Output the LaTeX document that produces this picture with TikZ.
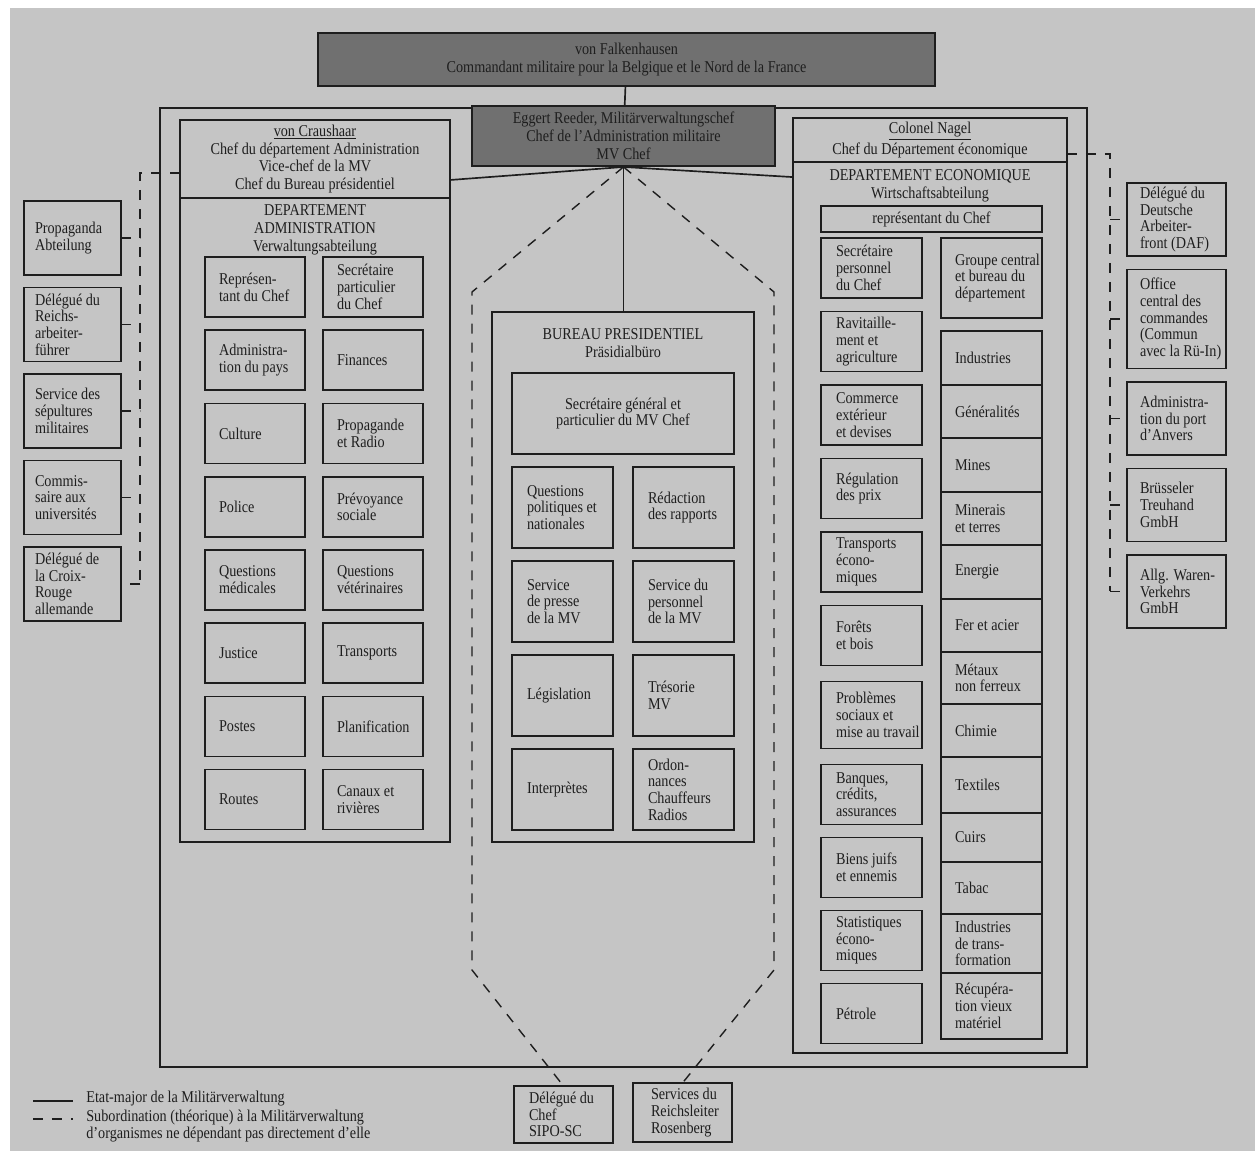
\documentclass[tikz,border=0pt]{standalone}
\usepackage{fontspec}
\setmainfont{Liberation Serif}[FakeStretch=0.86]
\usetikzlibrary{positioning}

\definecolor{paper}{RGB}{197,197,197}
\definecolor{ink}{RGB}{30,30,30}
\definecolor{chief}{RGB}{112,112,112}
\newcommand{\unitfont}{\fontsize{9.4pt}{9.5pt}\selectfont\hyphenpenalty=10000 \exhyphenpenalty=10000 }
\newcommand{\headfont}{\fontsize{9.4pt}{10.2pt}\selectfont}

\begin{document}
\begin{tikzpicture}[x=0.02cm, y=-0.02cm,
    chiefbox/.style={draw=ink, fill=chief, line width=1.1pt, text=ink, font=\headfont, align=center, inner sep=0pt},
    headbox/.style={draw=ink, line width=0.95pt, text=ink, font=\headfont, align=center, inner sep=0pt, outer sep=0pt},
    deptbox/.style={draw=ink, line width=0.95pt, inner sep=0pt, outer sep=0pt},
    title/.style={text=ink, font=\headfont, align=center, inner sep=0pt},
    unit/.style={draw=ink, line width=0.95pt, text=ink, font=\unitfont, align=flush left, inner xsep=0.02cm, inner ysep=1pt, outer sep=0pt,
        execute at begin node={\leftskip=#1\rightskip=-0.6cm plus 1fil}},
    unit/.default=0.26cm,
    admunit/.style={unit, text width=1.96cm, minimum height=1.2cm},
    burunit/.style={unit=0.28cm, text width=1.98cm, minimum height=1.62cm},
    ecounit/.style={unit=0.28cm, text width=1.98cm, minimum height=1.2cm},
    branch/.style={unit, text width=1.98cm, minimum height=1.06cm},
    outside/.style={unit=0.2cm, text width=1.9cm, minimum height=1.48cm},
    allied/.style={unit=0.24cm, text width=1.94cm, minimum height=1.46cm},
    staff/.style={draw=ink, line width=0.95pt},
    sub/.style={draw=ink, line width=0.8pt, dash pattern=on 0.2cm off 0.18cm}]

    \useasboundingbox (0,0) rectangle (1255,1173);
    \fill[white] (0,0) rectangle (1255,1173);
    \fill[paper] (10,8) rectangle (1255,1151);

    % cadre de la Militaerverwaltung
    \node[deptbox, line width=1.25pt, minimum width=18.54cm, minimum height=19.18cm] (mv) at (623.5,587.5) {};

    \node[chiefbox, minimum width=12.34cm, minimum height=1.06cm] (falk) at (626.5,59.5)
        {von Falkenhausen\\Commandant militaire pour la Belgique et le Nord de la France};
    \node[chiefbox, minimum width=6.06cm, minimum height=1.2cm] (reeder) at (623.5,136)
        {Eggert Reeder, Militärverwaltungschef\\Chef de l'Administration militaire\\MV Chef};

    % departement administration
    \node[headbox, minimum width=5.4cm, minimum height=1.56cm] (craus) at (315,159)
        {\underline{von Craushaar}\\Chef du département Administration\\Vice-chef de la MV\\Chef du Bureau présidentiel};
    \node[deptbox, minimum width=5.4cm, minimum height=12.88cm] (admin) at (315,520) {};
    \node[title, below=0.12cm of admin.north] (admin_t) {DEPARTEMENT\\ADMINISTRATION\\Verwaltungsabteilung};

    \node[admunit] (a_rep) at (255,287) {Représen-\\tant du Chef};
    \node[admunit, below=0.265cm of a_rep] (a_pays) {Administra-\\tion du pays};
    \node[admunit, below=0.265cm of a_pays] (a_cult) {Culture};
    \node[admunit, below=0.265cm of a_cult] (a_pol) {Police};
    \node[admunit, below=0.265cm of a_pol] (a_med) {Questions\\médicales};
    \node[admunit, below=0.265cm of a_med] (a_just) {Justice};
    \node[admunit, below=0.265cm of a_just] (a_post) {Postes};
    \node[admunit, below=0.265cm of a_post] (a_rout) {Routes};

    \node[admunit] (a_sec) at (373,287) {Secrétaire\\particulier\\du Chef};
    \node[admunit, below=0.265cm of a_sec] (a_fin) {Finances};
    \node[admunit, below=0.265cm of a_fin] (a_prop) {Propagande\\et Radio};
    \node[admunit, below=0.265cm of a_prop] (a_prev) {Prévoyance\\sociale};
    \node[admunit, below=0.265cm of a_prev] (a_vet) {Questions\\vétérinaires};
    \node[admunit, below=0.265cm of a_vet] (a_trans) {Transports};
    \node[admunit, below=0.265cm of a_trans] (a_plan) {Planification};
    \node[admunit, below=0.265cm of a_plan] (a_can) {Canaux et\\rivières};

    % bureau presidentiel
    \node[deptbox, minimum width=5.24cm, minimum height=10.6cm] (bureau) at (623,577) {};
    \node[title, below=0.32cm of bureau.north] (bureau_t) {BUREAU PRESIDENTIEL\\Präsidialbüro};
    \node[draw=ink, line width=0.95pt, text=ink, font=\unitfont, align=center, outer sep=0pt,
          minimum width=4.44cm, minimum height=1.62cm] (b_sg) at (623,413.5)
        {Secrétaire général et\\particulier du MV Chef};

    \node[burunit, below right=0.26cm and 0cm of b_sg.south west] (b_pol) {Questions\\politiques et\\nationales};
    \node[burunit, below=0.26cm of b_pol] (b_pres) {Service\\de presse\\de la MV};
    \node[burunit, below=0.26cm of b_pres] (b_leg) {Législation};
    \node[burunit, below=0.26cm of b_leg] (b_int) {Interprètes};

    \node[burunit, below left=0.26cm and 0cm of b_sg.south east] (b_red) {Rédaction\\des rapports};
    \node[burunit, below=0.26cm of b_red] (b_pers) {Service du\\personnel\\de la MV};
    \node[burunit, below=0.26cm of b_pers] (b_tres) {Trésorie\\MV};
    \node[burunit, below=0.26cm of b_tres] (b_ord) {Ordon-\\nances\\Chauffeurs\\Radios};

    % departement economique
    \node[headbox, minimum width=5.48cm, minimum height=0.88cm] (nagel) at (930,140)
        {\underline{Colonel Nagel}\\Chef du Département économique};
    \node[deptbox, minimum width=5.48cm, minimum height=17.82cm] (econ) at (930,607.5) {};
    \node[title, below=0.14cm of econ.north] (econ_t) {DEPARTEMENT ECONOMIQUE\\Wirtschaftsabteilung};
    \node[draw=ink, line width=0.95pt, text=ink, font=\unitfont, inner sep=0pt, outer sep=0pt,
          minimum width=4.42cm, minimum height=0.52cm] (e_rep) at (931.5,219) {représentant du Chef};

    \node[ecounit, below right=0.12cm and 0cm of e_rep.south west] (e_sec) {Secrétaire\\personnel\\du Chef};
    \node[ecounit, below=0.27cm of e_sec] (e_rav) {Ravitaille-\\ment et\\agriculture};
    \node[ecounit, below=0.27cm of e_rav] (e_com) {Commerce\\extérieur\\et devises};
    \node[ecounit, below=0.27cm of e_com] (e_reg) {Régulation\\des prix};
    \node[ecounit, below=0.27cm of e_reg] (e_tra) {Transports\\écono-\\miques};
    \node[ecounit, below=0.27cm of e_tra] (e_for) {Forêts\\et bois};
    \node[ecounit, minimum height=1.34cm, below=0.32cm of e_for] (e_pro) {Problèmes\\sociaux et\\mise au travail};
    \node[ecounit, below=0.32cm of e_pro] (e_ban) {Banques,\\crédits,\\assurances};
    \node[ecounit, below=0.26cm of e_ban] (e_bie) {Biens juifs\\et ennemis};
    \node[ecounit, below=0.26cm of e_bie] (e_sta) {Statistiques\\écono-\\miques};
    \node[ecounit, below=0.26cm of e_sta] (e_pet) {Pétrole};

    \node[branch, minimum height=1.6cm, below left=0.12cm and 0cm of e_rep.south east] (e_grp)
        {Groupe central\\et bureau du\\département};
    \node[branch, minimum height=1.08cm, below=0.26cm of e_grp] (e_ind) {Industries};
    \node[branch, below=0pt of e_ind] (e_gen) {Généralités};
    \node[branch, minimum height=1.08cm, below=0pt of e_gen] (e_min) {Mines};
    \node[branch, below=0pt of e_min] (e_mnr) {Minerais\\et terres};
    \node[branch, minimum height=1.08cm, below=0pt of e_mnr] (e_ene) {Energie};
    \node[branch, below=0pt of e_ene] (e_fer) {Fer et acier};
    \node[branch, minimum height=1.04cm, below=0pt of e_fer] (e_met) {Métaux\\non ferreux};
    \node[branch, below=0pt of e_met] (e_chi) {Chimie};
    \node[branch, minimum height=1.12cm, below=0pt of e_chi] (e_tex) {Textiles};
    \node[branch, minimum height=0.98cm, below=0pt of e_tex] (e_cui) {Cuirs};
    \node[branch, minimum height=1.04cm, below=0pt of e_cui] (e_tab) {Tabac};
    \node[branch, minimum height=1.18cm, below=0pt of e_tab] (e_itr) {Industries\\de trans-\\formation};
    \node[branch, minimum height=1.32cm, below=0pt of e_itr] (e_rec) {Récupéra-\\tion vieux\\matériel};

    % organismes rattaches, a gauche
    \node[outside] (o_prop) at (72.5,238) {Propaganda\\Abteilung};
    \node[outside, below=0.25cm of o_prop] (o_reich) {Délégué du\\Reichs-\\arbeiter-\\führer};
    \node[outside, below=0.25cm of o_reich] (o_sep) {Service des\\sépultures\\militaires};
    \node[outside, below=0.25cm of o_sep] (o_univ) {Commis-\\saire aux\\universités};
    \node[outside, below=0.25cm of o_univ] (o_croix) {Délégué de\\la Croix-\\Rouge\\allemande};

    % organismes rattaches, a droite
    \node[allied] (r_daf) at (1176.5,219.5) {Délégué du\\Deutsche\\Arbeiter-\\front (DAF)};
    \node[allied, minimum height=1.98cm, below=0.27cm of r_daf] (r_occ)
        {Office\\central des\\commandes\\(Commun\\avec la Rü-In)};
    \node[allied, below=0.27cm of r_occ] (r_anv) {Administra-\\tion du port\\d'Anvers};
    \node[allied, below=0.27cm of r_anv] (r_bth) {Brüsseler\\Treuhand\\GmbH};
    \node[allied, below=0.27cm of r_bth] (r_awv) {Allg. Waren-\\Verkehrs\\GmbH};

    % en bas
    \node[unit=0.28cm, text width=1.94cm, minimum height=1.14cm] (sipo) at (563.5,1114.5)
        {Délégué du\\Chef\\SIPO-SC};
    \node[unit=0.34cm, text width=1.94cm, minimum height=1.18cm] (rosen) at (682.5,1112.5)
        {Services du\\Reichsleiter\\Rosenberg};

    \coordinate (lbus) at (140,0);
    \coordinate (rbus) at (1110,0);
    \coordinate (hx_nw) at (472,292);
    \coordinate (hx_sw) at (472,970);
    \coordinate (hx_ne) at (774,292);
    \coordinate (hx_se) at (774,970);

    % etat-major
    \draw[staff] (falk) -- (reeder);
    \draw[staff] (reeder.south) -- (reeder.south |- bureau.north);
    \draw[staff] (reeder.south) -- ([yshift=-0.42cm]craus.east);
    \draw[staff] (reeder.south) -- ([yshift=-0.3cm]econ.north west);

    % subordination
    \draw[sub] (reeder.south) -- (hx_nw) -- (hx_sw) -- (sipo.north);
    \draw[sub] (reeder.south) -- (hx_ne) -- (hx_se) -- (rosen.north);

    \draw[sub] ([yshift=-0.28cm]craus.west) -| (lbus |- o_croix.east);
    \draw[sub] (o_prop.east) -- (lbus |- o_prop.east);
    \draw[sub] (o_reich.east) -- (lbus |- o_reich.east);
    \draw[sub] (o_sep.east) -- (lbus |- o_sep.east);
    \draw[sub] (o_univ.east) -- (lbus |- o_univ.east);
    \draw[sub] (lbus |- o_croix.east) -- (o_croix.east);

    \draw[sub] ([yshift=-0.28cm]nagel.east) -| (rbus |- r_awv.west);
    \draw[sub] (rbus |- r_daf.west) -- (r_daf.west);
    \draw[sub] (rbus |- r_occ.west) -- (r_occ.west);
    \draw[sub] (rbus |- r_anv.west) -- (r_anv.west);
    \draw[sub] (rbus |- r_bth.west) -- (r_bth.west);
    \draw[sub] (rbus |- r_awv.west) -- (r_awv.west);

    % legende
    \draw[staff] (33,1101) -- (73,1101);
    \node[anchor=west, text=ink, font=\unitfont, inner sep=0pt] (leg_staff) at (86,1099)
        {Etat-major de la Militärverwaltung};
    \draw[sub] (33,1119) -- (73,1119);
    \node[anchor=west, text=ink, font=\unitfont, align=left, inner sep=0pt] (leg_sub) at (86,1126)
        {Subordination (théorique) à la Militärverwaltung\\d'organismes ne dépendant pas directement d'elle};

\end{tikzpicture}
\end{document}
